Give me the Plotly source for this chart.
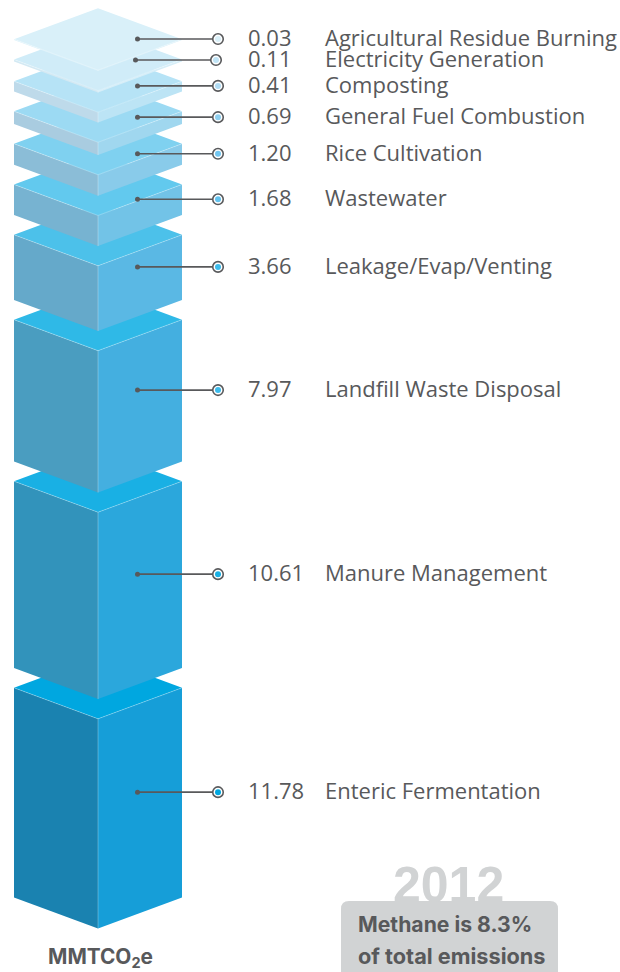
import plotly.graph_objects as go

# ---- data, bottom block first ----
categories = ["Enteric Fermentation", "Manure Management", "Landfill Waste Disposal",
              "Leakage/Evap/Venting", "Wastewater", "Rice Cultivation",
              "General Fuel Combustion", "Composting", "Electricity Generation",
              "Agricultural Residue Burning"]
value_labels = ["11.78", "10.61", "7.97", "3.66", "1.68", "1.20", "0.69", "0.41", "0.11", "0.03"]
# block heights (MMTCO2e)
block_values = [11.78, 10.50, 7.97, 3.66, 1.72, 1.18, 0.72, 0.58, 0.11, 0.04]

top_colors = ["#00a7e0", "#19b0e4", "#2fb9e7", "#4cc1ea", "#62c9ee",
              "#7fd1f0", "#9cdaf3", "#b6e3f6", "#d0ecf8", "#d9f0f9"]
left_colors = ["#1a82b0", "#3293bb", "#4a9dc0", "#65a9ca", "#77b3d1",
               "#8bbdd7", "#a9cce0", "#bedaea", "#d3e9f3", "#d9f0f9"]
right_colors = ["#169ed8", "#2ba7dc", "#44afe0", "#5ab8e4", "#72c3e7",
                "#89cbea", "#a0d7ef", "#bce4f5", "#d6eef8", "#d9f0f9"]
dot_colors = ["#00a7e0", "#19b0e4", "#3cbcec", "#3cbcec", "#62c2ee",
              "#72c6f0", "#8fd0f0", "#b0dcf4", "#c0e4f6", "#d9f0f9"]

title_text = "MMTCO<sub>2</sub>e"
year_text = "2012"
note_lines = ["Methane is 8.3%", "of total emissions"]

# ---- geometry / scales ----
W, H = 620, 972
PX = 17.8          # pixels per MMTCO2e
BASE_PX = 897.5    # pixel row of the y=0 level
GAP = 19.7 / PX
DEPTH = 31.0 / PX
XL, XC, XR = 14, 98, 182
GRAY = "#58595b"
LIGHT = "#d1d3d4"


def y_of_px(p):
    return (BASE_PX - p) / PX


fig = go.Figure()
level = 0.0
mids = []
for i, v in enumerate(block_values):
    b, t = level, level + v
    mids.append((b + t) / 2 + 0.5 / PX)
    fig.add_trace(go.Scatter(x=[XL, XC, XC, XL, XL], y=[t, t - DEPTH, b - DEPTH, b, t],
                             fill="toself", fillcolor=left_colors[i], mode="none",
                             hoverinfo="skip", showlegend=False))
    fig.add_trace(go.Scatter(x=[XC, XR, XR, XC, XC], y=[t - DEPTH, t, b, b - DEPTH, t - DEPTH],
                             fill="toself", fillcolor=right_colors[i], mode="none",
                             hoverinfo="skip", showlegend=False))
    fig.add_trace(go.Scatter(x=[XL, XC, XR, XC, XL], y=[t, t + DEPTH, t, t - DEPTH, t],
                             fill="toself", fillcolor=top_colors[i], mode="none",
                             hoverinfo="skip", showlegend=False))
    fig.add_trace(go.Scatter(x=[XL, XC, XR, None, XC, XC], y=[t, t - DEPTH, t, None, t - DEPTH, b - DEPTH],
                             mode="lines", line=dict(color="rgba(255,255,255,0.35)", width=0.8),
                             hoverinfo="skip", showlegend=False))
    level = t + GAP

# ---- leaders ----
for i, m in enumerate(mids):
    shift = -2 if categories[i] == "Electricity Generation" else 0
    x0, x1 = 137.5 + shift, 218 + shift
    fig.add_trace(go.Scatter(x=[x0, x1], y=[m, m], mode="lines",
                             line=dict(color=GRAY, width=1.6), hoverinfo="skip", showlegend=False))
    fig.add_trace(go.Scatter(x=[x0], y=[m], mode="markers",
                             marker=dict(color=GRAY, size=5), hoverinfo="skip", showlegend=False))
    fig.add_trace(go.Scatter(x=[x1], y=[m], mode="markers",
                             marker=dict(color="white", size=10.5, line=dict(color=GRAY, width=1.6)),
                             hoverinfo="skip", showlegend=False))
    fig.add_trace(go.Scatter(x=[x1], y=[m], mode="markers",
                             marker=dict(color=dot_colors[i], size=6), hoverinfo="skip", showlegend=False))

# ---- labels ----
LABEL_FONT = dict(family="Open Sans", size=22, color=GRAY)
text_y = [m - 1.5 / PX for m in mids]
fig.add_trace(go.Scatter(x=[248] * len(mids), y=text_y, mode="text", text=value_labels,
                         textposition="middle right", textfont=LABEL_FONT,
                         hoverinfo="skip", showlegend=False))
fig.add_trace(go.Scatter(x=[325] * len(mids), y=text_y, mode="text", text=categories,
                         textposition="middle right", textfont=LABEL_FONT,
                         hoverinfo="skip", showlegend=False))

# ---- call-out box ----
bx0, bx1, by0, by1, r = 341, 558, 901, 980, 8
path = (f"M {bx0/W} {1-by1/H} L {bx0/W} {1-(by0+r)/H} Q {bx0/W} {1-by0/H} {(bx0+r)/W} {1-by0/H} "
        f"L {(bx1-r)/W} {1-by0/H} Q {bx1/W} {1-by0/H} {bx1/W} {1-(by0+r)/H} L {bx1/W} {1-by1/H} Z")
shapes = [dict(type="path", xref="paper", yref="paper", path=path,
               fillcolor=LIGHT, line=dict(width=0), layer="below")]

anns = [
    dict(x=448, y=y_of_px(885), text=f"<b>{year_text}</b>", showarrow=False, xanchor="center",
         yanchor="middle", font=dict(family="Liberation Sans", size=50, color=LIGHT)),
    dict(x=355.5, y=y_of_px(923.5), text=f"<b>{note_lines[0]}</b>", showarrow=False, xanchor="left",
         yanchor="middle", font=dict(family="Inter", size=21.2, color=GRAY)),
    dict(x=355.5, y=y_of_px(956), text=f"<b>{note_lines[1]}</b>", showarrow=False, xanchor="left",
         yanchor="middle", font=dict(family="Inter", size=21.7, color=GRAY)),
    dict(x=100.5, y=y_of_px(958), text=f"<b>{title_text}</b>", showarrow=False, xanchor="center",
         yanchor="middle", font=dict(family="Inter", size=20.8, color=GRAY)),
]

fig.update_layout(
    width=W, height=H, margin=dict(l=0, r=0, t=0, b=0),
    paper_bgcolor="white", plot_bgcolor="white", showlegend=False,
    xaxis=dict(range=[0, W], visible=False, fixedrange=True),
    yaxis=dict(range=[y_of_px(H), y_of_px(0)], visible=False, fixedrange=True),
    shapes=shapes, annotations=anns,
)

fig.write_html("out.html", config={"displayModeBar": False},
               post_script="document.body.style.margin='0';document.body.style.overflow='hidden';")
